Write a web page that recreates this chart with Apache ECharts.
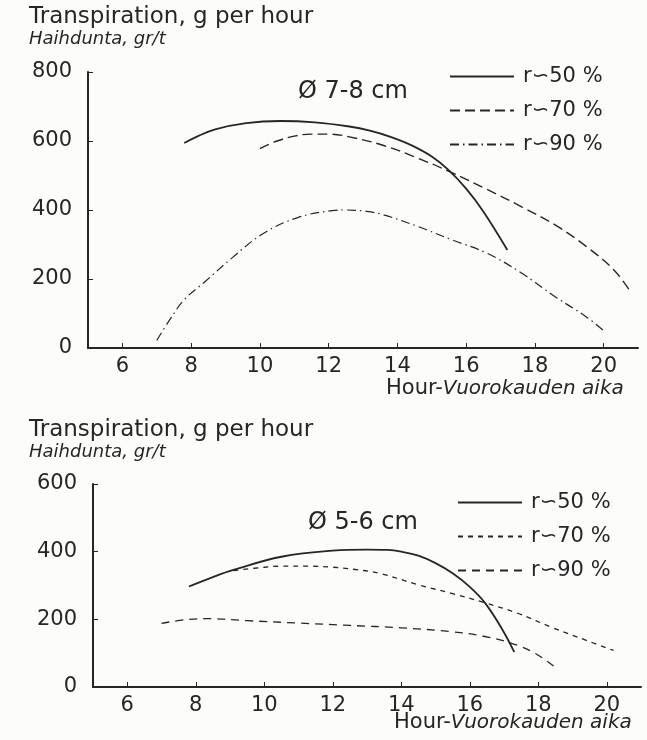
<!DOCTYPE html>
<html>
<head>
<meta charset="utf-8">
<script src="https://cdn.jsdelivr.net/npm/echarts@6/dist/echarts.min.js"></script>
<style>
  html, body { margin: 0; padding: 0; background: #fcfcfb; }
  #chart { width: 647px; height: 740px; }
</style>
</head>
<body>
<div id="chart"></div>
<script>
// Hour ticks shared by both panels
const hourTicks = [6, 8, 10, 12, 14, 16, 18, 20];

// Relative humidity classes
const humidityLabels = ['r∽50 %', 'r∽70 %', 'r∽90 %'];

// Diameter 7-8 cm: [hour, transpiration g/h]
const d78_r50 = [[7.8, 594], [8.2, 614], [8.7, 634], [9.6, 652], [10.6, 658], [11.6, 654], [12.6, 642], [13.2, 630], [13.8, 612], [14.4, 588], [15.0, 555], [15.5, 515], [16.0, 462], [16.5, 396], [17.2, 284]];
const d78_r70 = [[10.0, 578], [10.5, 600], [11.0, 614], [11.5, 620], [12.0, 620], [12.6, 612], [13.6, 587], [14.6, 550], [15.5, 512], [16.6, 460], [17.6, 410], [18.6, 356], [19.5, 294], [20.3, 226], [20.8, 160]];
const d78_r90 = [[7.0, 22], [7.4, 85], [7.8, 140], [8.4, 192], [9.2, 262], [10.1, 332], [11.1, 378], [12.1, 398], [12.5, 400], [13.1, 396], [13.6, 386], [14.6, 352], [15.6, 313], [16.6, 275], [17.6, 218], [18.6, 148], [19.5, 90], [20.0, 50]];

// Diameter 5-6 cm: [hour, transpiration g/h]
const d56_r50 = [[7.8, 297], [8.5, 325], [9.1, 346], [10.5, 385], [12.0, 403], [13.0, 406], [13.6, 405], [14.0, 400], [14.5, 388], [15.0, 366], [15.5, 336], [16.0, 296], [16.45, 248], [16.95, 170], [17.3, 103]];
const d56_r70 = [[9.1, 344], [10.0, 354], [10.5, 357], [11.3, 357], [12.0, 354], [12.6, 348], [13.4, 335], [14.5, 302], [15.5, 276], [16.4, 250], [17.4, 218], [18.4, 176], [19.4, 138], [20.2, 108]];
const d56_r90 = [[7.0, 188], [7.8, 200], [8.4, 202], [9.5, 196], [11.0, 189], [12.5, 182], [14.0, 175], [15.5, 163], [16.4, 150], [17.2, 130], [17.9, 100], [18.5, 58]];

const INK = '#262626';
const FONT = '"DejaVu Sans", "Noto Sans", sans-serif';

function lineSeries(name, data, idx, width, dash) {
  return {
    type: 'line', name, data, smooth: 0.4, showSymbol: false, symbol: 'none',
    xAxisIndex: idx, yAxisIndex: idx,
    lineStyle: { color: INK, width, type: dash },
    itemStyle: { color: INK },
    emphasis: { disabled: true }, silent: true, z: 3
  };
}

function xAxisFor(idx) {
  return {
    type: 'value', gridIndex: idx, min: 5, max: 21,
    axisLine: { show: true, lineStyle: { color: INK, width: 2 } },
    axisTick: { show: true, inside: true, length: 5, customValues: hourTicks, lineStyle: { color: INK, width: 1 } },
    axisLabel: { customValues: hourTicks, color: INK, fontSize: 21, fontFamily: FONT, margin: 8 },
    splitLine: { show: false }
  };
}

function yAxisFor(idx, max) {
  return {
    type: 'value', gridIndex: idx, min: 0, max, interval: 200,
    axisLine: { show: true, lineStyle: { color: INK, width: 2 } },
    axisTick: { show: true, inside: true, length: 5, lineStyle: { color: INK, width: 1 } },
    axisLabel: { color: INK, fontSize: 21, fontFamily: FONT, margin: 16 },
    splitLine: { show: false }
  };
}

// Legend keys show only the line style of each humidity class
function legendFor(names, top, left) {
  return {
    data: names, orient: 'vertical', left, top,
    itemWidth: 64, itemHeight: 14, itemGap: 13,
    selectedMode: false,
    itemStyle: { opacity: 0 },
    textStyle: { color: INK, fontSize: 21, fontFamily: FONT, padding: [0, 0, 0, 4] },
    formatter: (n) => humidityLabels[names.indexOf(n)]
  };
}

const namesTop = ['7-8 cm r50', '7-8 cm r70', '7-8 cm r90'];
const namesBottom = ['5-6 cm r50', '5-6 cm r70', '5-6 cm r90'];

function hourName(x, y) {
  return {
    type: 'text', left: x, top: y,
    style: {
      text: '{a|Hour-}{b|Vuorokauden aika}',
      rich: {
        a: { fontSize: 21, fontFamily: FONT, fill: INK },
        b: { fontSize: 20, fontFamily: FONT, fontStyle: 'italic', fill: INK }
      }
    }
  };
}

function diameterLabel(text, x, y) {
  return {
    type: 'text', left: x, top: y,
    style: { text, fontSize: 24, fontFamily: FONT, fill: INK }
  };
}

const titleText = { color: INK, fontSize: 23, fontWeight: 'normal', fontFamily: FONT };
const subtitleText = { color: INK, fontSize: 18, fontStyle: 'italic', fontFamily: FONT };

const option = {
  backgroundColor: '#fcfcfb',
  animation: false,
  title: [
    { text: 'Transpiration, g per hour', subtext: 'Haihdunta, gr/t', left: 24, top: 1, itemGap: 1, textStyle: titleText, subtextStyle: subtitleText },
    { text: 'Transpiration, g per hour', subtext: 'Haihdunta, gr/t', left: 24, top: 414, itemGap: 1, textStyle: titleText, subtextStyle: subtitleText }
  ],
  grid: [
    { left: 88, top: 72, right: 9, height: 276 },
    { left: 93, top: 484, right: 6, height: 203 }
  ],
  xAxis: [xAxisFor(0), xAxisFor(1)],
  yAxis: [yAxisFor(0, 800), yAxisFor(1, 600)],
  legend: [legendFor(namesTop, 61, 444), legendFor(namesBottom, 487, 452)],
  series: [
    lineSeries(namesTop[0], d78_r50, 0, 1.8, 'solid'),
    lineSeries(namesTop[1], d78_r70, 0, 1.4, [10, 5]),
    lineSeries(namesTop[2], d78_r90, 0, 1.2, [9, 4, 1.5, 4]),
    lineSeries(namesBottom[0], d56_r50, 1, 1.8, 'solid'),
    lineSeries(namesBottom[1], d56_r70, 1, 1.3, [5, 5]),
    lineSeries(namesBottom[2], d56_r90, 1, 1.3, [8, 6])
  ],
  graphic: [
    diameterLabel('Ø 7-8 cm', 298, 80),
    diameterLabel('Ø 5-6 cm', 308, 511),
    hourName(386, 378),
    hourName(394, 712)
  ]
};

echarts.init(document.getElementById('chart'), null, { renderer: 'canvas' }).setOption(option);
</script>
</body>
</html>
